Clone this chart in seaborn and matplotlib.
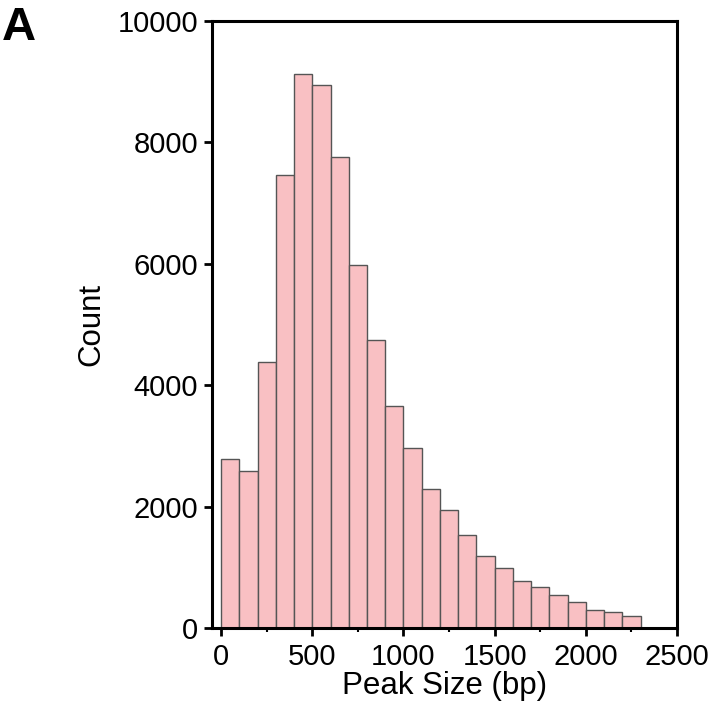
import matplotlib
matplotlib.use("Agg")
import matplotlib.pyplot as plt
import seaborn as sns
import numpy as np
import pandas as pd
from matplotlib.ticker import MultipleLocator

bin_starts = [0, 100, 200, 300, 400, 500, 600, 700, 800, 900, 1000, 1100,
              1200, 1300, 1400, 1500, 1600, 1700, 1800, 1900, 2000, 2100, 2200]
counts = [2780, 2580, 4390, 7470, 9130, 8950, 7760, 5980, 4740, 3650, 2960, 2290,
          1950, 1540, 1180, 990, 770, 670, 545, 430, 300, 268, 195]
bin_width = 100
x_ticks = [0, 500, 1000, 1500, 2000, 2500]
y_ticks = [0, 2000, 4000, 6000, 8000, 10000]

df = pd.DataFrame({"size": np.array(bin_starts) + bin_width / 2, "count": counts})
edges = list(bin_starts) + [bin_starts[-1] + bin_width]

sns.set_style("white")
plt.rcParams["font.family"] = ["Liberation Sans", "DejaVu Sans"]
plt.rcParams["text.color"] = "black"
plt.rcParams["axes.labelcolor"] = "black"

fig = plt.figure(figsize=(7.14, 7.07), dpi=100)
ax = fig.add_axes([212 / 714, 1 - 628 / 707, (677 - 212) / 714, (628 - 21) / 707])

sns.histplot(data=df, x="size", weights="count", bins=edges, ax=ax,
             color="#F9C0C3", alpha=1.0, edgecolor="#555555", linewidth=1.0)

ax.set_xlim(-50, 2500)
ax.set_ylim(0, 10000)
ax.set_xticks(x_ticks)
ax.set_yticks(y_ticks)
ax.xaxis.set_minor_locator(MultipleLocator(250))
ax.tick_params(axis="both", which="major", direction="out", length=6, width=2,
               labelsize=21, colors="black", bottom=True, left=True)
ax.tick_params(axis="y", which="major", pad=4)
ax.tick_params(axis="x", which="major", pad=5)
ax.tick_params(axis="x", which="minor", direction="out", length=3, width=1.5,
               bottom=True, colors="black")
for s in ax.spines.values():
    s.set_linewidth(2.2)
    s.set_color("black")
    s.set_visible(True)

ax.set_xlabel("Peak Size (bp)", fontsize=22.5, labelpad=0, color="black")
ax.set_ylabel("Count", fontsize=22.5, labelpad=8, color="black")

fig.text(2 / 714, 1 - 6 / 707, "A", fontsize=34, fontweight="bold",
         va="top", ha="left", color="black")

fig.savefig("out.png", dpi=100)
